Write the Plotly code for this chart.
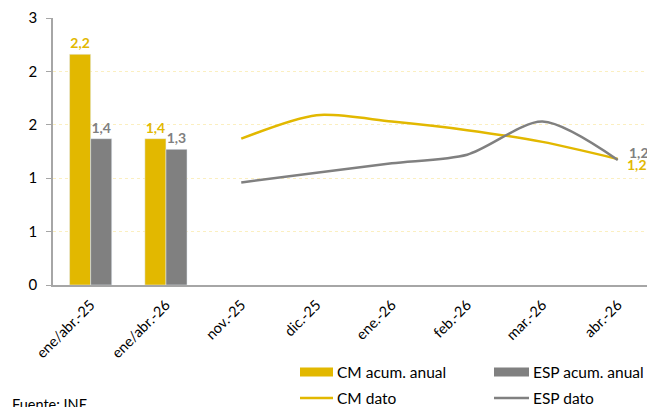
import plotly.graph_objects as go

categories = ["ene/abr.-25", "ene/abr.-26", "nov.-25", "dic.-25", "ene.-26", "feb.-26", "mar.-26", "abr.-26"]
bar_cats = ["ene/abr.-25", "ene/abr.-26"]
cm_acum = [2.16, 1.37]
esp_acum = [1.37, 1.27]
month_cats = ["nov.-25", "dic.-25", "ene.-26", "feb.-26", "mar.-26", "abr.-26"]
cm_dato = [1.37, 1.59, 1.53, 1.45, 1.34, 1.18]
esp_dato = [0.96, 1.05, 1.14, 1.22, 1.53, 1.17]
y_tickvals = [0, 0.5, 1, 1.5, 2, 2.5]
y_ticktext = ["0", "1", "1", "2", "2", "3"]
legend_names = ["CM acum. anual", "ESP acum. anual", "CM dato", "ESP dato"]

YEL = "#E2B800"
GRY = "#808080"
FONT = "Lato"

W, H = 647, 407
ML, MT = 53, 18
PLOT_BOTTOM = 285
MB = H - PLOT_BOTTOM
MR = 0
PW, PH = W - ML - MR, H - MT - MB
CAT_W = 75.3
XMAX = -0.5 + PW / CAT_W

def px(x):
    return (x - ML) / PW

def py(y):
    return (PLOT_BOTTOM - y) / PH

def fmt(v):
    return f"{v:.1f}".replace(".", ",")

fig = go.Figure()
fig.add_trace(go.Bar(x=bar_cats, y=cm_acum, name=legend_names[0], marker_color=YEL,
                     texttemplate="%{y:.1f}", textposition="outside",
                     textfont=dict(color=YEL, size=14, family=FONT, weight="bold"),
                     cliponaxis=False))
fig.add_trace(go.Bar(x=bar_cats, y=esp_acum, name=legend_names[1], marker_color=GRY,
                     texttemplate="%{y:.1f}", textposition="outside",
                     textfont=dict(color=GRY, size=14, family=FONT, weight="bold"),
                     cliponaxis=False))
fig.add_trace(go.Scatter(x=month_cats, y=cm_dato, name=legend_names[2], mode="lines",
                         line=dict(color=YEL, width=2.5, shape="spline", smoothing=0.8)))
fig.add_trace(go.Scatter(x=month_cats, y=esp_dato, name=legend_names[3], mode="lines",
                         line=dict(color=GRY, width=2.5, shape="spline", smoothing=0.8)))

# end-of-line value labels
fig.add_annotation(x=month_cats[-1], y=esp_dato[-1], text=fmt(esp_dato[-1]), showarrow=False,
                   xanchor="left", yanchor="middle", xshift=9, yshift=8,
                   font=dict(color=GRY, size=14, family=FONT, weight="bold"))
fig.add_annotation(x=month_cats[-1], y=cm_dato[-1], text=fmt(cm_dato[-1]), showarrow=False,
                   xanchor="left", yanchor="middle", xshift=7, yshift=-6,
                   font=dict(color=YEL, size=14, family=FONT, weight="bold"))

fig.update_layout(
    width=W, height=H,
    margin=dict(l=ML, r=MR, t=MT, b=MB, autoexpand=False),
    paper_bgcolor="white", plot_bgcolor="white",
    separators=",.",
    barmode="group", bargap=0.44, bargroupgap=0,
    font=dict(family=FONT, size=14, color="#000000"),
    showlegend=False,
)
fig.update_xaxes(type="category", categoryorder="array", categoryarray=categories,
                 range=[-0.5, XMAX], showline=True, linecolor="#A6A6A6", linewidth=1.5,
                 ticks="", tickangle=-45, tickfont=dict(size=14.5, family=FONT),
                 ticklabelstandoff=4,
                 showgrid=False, zeroline=False, automargin=False)
fig.update_yaxes(range=[0, 2.5], tickvals=y_tickvals, ticktext=y_ticktext,
                 showline=True, linecolor="#A6A6A6", linewidth=1.5,
                 ticks="outside", ticklen=5, tickcolor="#A6A6A6",
                 ticklabelstandoff=6,
                 showgrid=True, gridcolor="#FBEFC0", griddash="dot", gridwidth=1,
                 zeroline=False, tickfont=dict(size=15, family=FONT), automargin=False)

# manual legend (picture pixel positions)
leg = [
    (legend_names[0], YEL, "rect", 300, 333, 372),
    (legend_names[1], GRY, "rect", 494, 529, 372),
    (legend_names[2], YEL, "line", 300, 333, 398),
    (legend_names[3], GRY, "line", 494, 529, 398),
]
for name, col, kind, x0, x1, yc in leg:
    if kind == "rect":
        fig.add_shape(type="rect", xref="paper", yref="paper", x0=px(x0), x1=px(x1),
                      y0=py(yc + 4.5), y1=py(yc - 4.5), fillcolor=col, line=dict(width=0))
    else:
        fig.add_shape(type="line", xref="paper", yref="paper", x0=px(x0), x1=px(x1),
                      y0=py(yc), y1=py(yc), line=dict(color=col, width=2.5))
    fig.add_annotation(text=name, xref="paper", yref="paper", x=px(x1 + 2), y=py(yc),
                       xanchor="left", yanchor="middle", showarrow=False,
                       font=dict(size=15.5, family=FONT))

fig.add_annotation(text="Fuente: INE", xref="paper", yref="paper", x=px(10), y=py(404),
                   xanchor="left", yanchor="middle", showarrow=False,
                   font=dict(size=14.5, family=FONT))
fig.add_annotation(text="(%)", xref="paper", yref="paper", x=px(354), y=py(0),
                   xanchor="center", yanchor="bottom", yshift=3, showarrow=False,
                   font=dict(size=15, family=FONT))

fig.write_html("out.html", config={"displayModeBar": False},
               post_script="document.body.style.margin='0';document.body.style.overflow='hidden';")
